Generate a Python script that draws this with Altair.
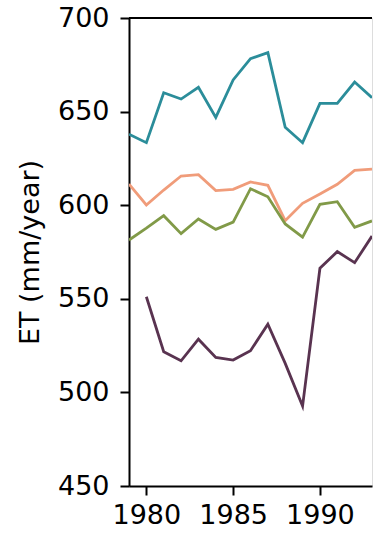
import altair as alt
import pandas as pd

# Annual evapotranspiration per dataset (mm/year)
years = list(range(1979, 1994))
teal_et = [637.9, 633.4, 660.1, 656.7, 663.0, 646.9, 666.9, 678.3, 681.5,
           641.6, 633.4, 654.4, 654.4, 665.8, 657.4]
salmon_et = [611.3, 600.1, 608.1, 615.6, 616.3, 607.8, 608.5, 612.4, 610.6,
             591.7, 601.0, 606.0, 611.2, 618.6, 619.3]
green_et = [581.4, 587.7, 594.4, 584.8, 592.6, 587.1, 591.0, 608.8, 604.5,
            590.0, 582.9, 600.5, 601.9, 588.2, 591.6]
purple_years = list(range(1980, 1994))
purple_et = [551.1, 521.7, 516.9, 528.4, 518.7, 517.3, 522.3, 536.4,
             515.5, 492.7, 566.3, 575.2, 569.3, 583.5]

series_names = ["A", "B", "C", "D"]
series_colors = ["#2b8d9a", "#f09c7a", "#819a48", "#593350"]

rows = []
for name, xs, ys in [
    ("A", years, teal_et),
    ("B", years, salmon_et),
    ("C", years, green_et),
    ("D", purple_years, purple_et),
]:
    for x, y in zip(xs, ys):
        rows.append({"year": x, "et": y, "series": name})
df = pd.DataFrame(rows)

FONT = "DejaVu Sans"

lines = alt.Chart(df).mark_line(strokeWidth=2.8, clip=True).encode(
    x=alt.X(
        "year:Q",
        scale=alt.Scale(domain=[1979, 1993], nice=False, zero=False),
        axis=alt.Axis(
            values=[1980, 1985, 1990], format="d", title=None, grid=False,
            domainColor="black", domainWidth=2, tickColor="black", tickWidth=2,
            tickSize=9, labelFontSize=27, labelFont=FONT, labelColor="black",
            labelPadding=7, labelFlush=False,
        ),
    ),
    y=alt.Y(
        "et:Q",
        scale=alt.Scale(domain=[450, 700], nice=False, zero=False),
        axis=alt.Axis(
            values=[450, 500, 550, 600, 650, 700], title="ET (mm/year)",
            grid=False, domainColor="black", domainWidth=2, tickColor="black",
            tickWidth=2, tickSize=9, labelFontSize=27, labelFont=FONT,
            labelColor="black", labelPadding=11, labelFlush=False,
            titleFontSize=27, titleFont=FONT, titleFontWeight="normal",
            titleColor="black", titleX=-99, titleY=234, titleAlign="center",
            titleBaseline="middle", titleAngle=270,
        ),
    ),
    color=alt.Color(
        "series:N",
        scale=alt.Scale(domain=series_names, range=series_colors),
        legend=None,
    ),
    detail="series:N",
)

# Top spine of the frame
top_spine = alt.Chart(df).mark_rule(color="black", strokeWidth=2).encode(
    x=alt.value(0), x2=alt.value(243), y=alt.value(0)
)

chart = alt.layer(top_spine, lines).properties(
    width=243,
    height=468,
    autosize=alt.AutoSizeParams(type="none"),
    padding={"left": 129, "top": 18, "right": 8, "bottom": 47},
).configure_view(stroke=None).configure(background="white")

chart.save("out.html", embed_options={"renderer": "svg", "actions": False})
